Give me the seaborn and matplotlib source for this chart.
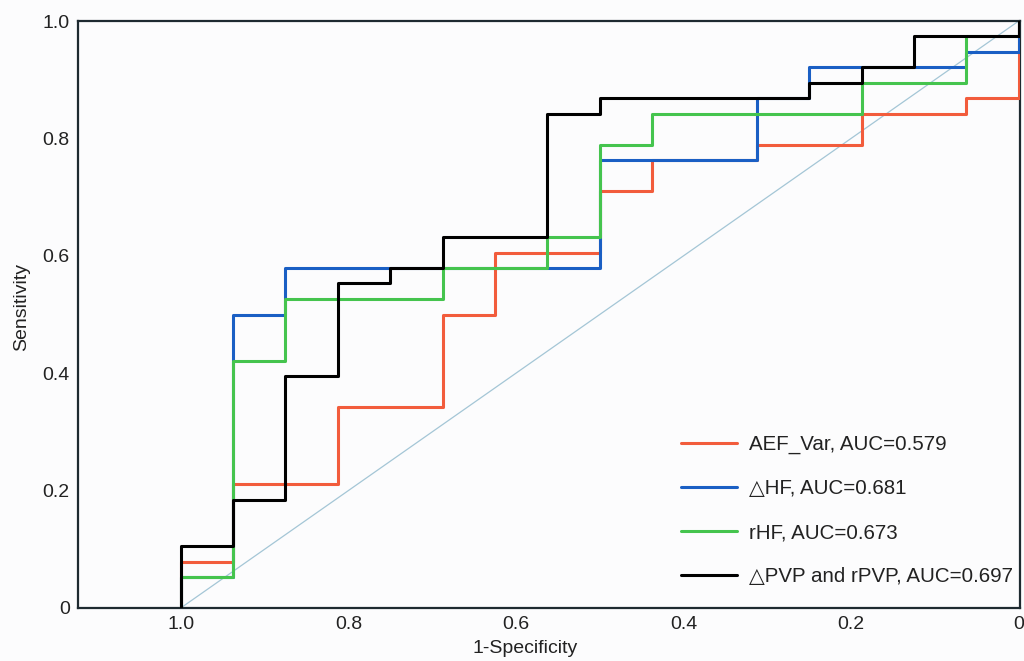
import matplotlib
matplotlib.use("Agg")
import matplotlib.pyplot as plt
import seaborn as sns
import pandas as pd
from matplotlib.lines import Line2D

# ---- data (ROC step vertices: specificity axis value, sensitivity) ----
labels = ["AEF_Var, AUC=0.579", "\u25b3HF, AUC=0.681", "rHF, AUC=0.673",
          "\u25b3PVP and rPVP, AUC=0.697"]
colors = ["#f25c3c", "#1a5fc4", "#45c44e", "#000000"]

aef_x = [1.0, 1.0, 0.9375, 0.8125, 0.6875, 0.625, 0.5, 0.4375, 0.3125, 0.1875, 0.0625, 0.0]
aef_y = [0.0, 0.079, 0.211, 0.342, 0.500, 0.605, 0.711, 0.763, 0.789, 0.842, 0.868, 1.0]

dhf_x = [1.0, 1.0, 0.9375, 0.875, 0.5, 0.3125, 0.25, 0.0625, 0.0]
dhf_y = [0.0, 0.053, 0.500, 0.579, 0.763, 0.868, 0.921, 0.947, 1.0]

rhf_x = [1.0, 1.0, 0.9375, 0.875, 0.6875, 0.5625, 0.5, 0.4375, 0.1875, 0.0625, 0.0]
rhf_y = [0.0, 0.053, 0.421, 0.526, 0.579, 0.632, 0.789, 0.842, 0.895, 0.974, 1.0]

pvp_x = [1.0, 1.0, 0.9375, 0.875, 0.8125, 0.75, 0.6875, 0.5625, 0.5, 0.25, 0.1875, 0.125, 0.0]
pvp_y = [0.0, 0.105, 0.184, 0.395, 0.553, 0.579, 0.632, 0.842, 0.868, 0.895, 0.921, 0.974, 1.0]

xticks = [1.0, 0.8, 0.6, 0.4, 0.2, 0.0]
xticklabels = ["1.0", "0.8", "0.6", "0.4", "0.2", "0"]
yticks = [0.0, 0.2, 0.4, 0.6, 0.8, 1.0]
yticklabels = ["0", "0.2", "0.4", "0.6", "0.8", "1.0"]

frames = []
for lab, xs, ys in zip(labels, [aef_x, dhf_x, rhf_x, pvp_x], [aef_y, dhf_y, rhf_y, pvp_y]):
    frames.append(pd.DataFrame({"spec": xs, "sens": ys, "curve": lab}))
df = pd.concat(frames, ignore_index=True)

sns.set_style("white")
plt.rcParams["font.family"] = ["Liberation Sans", "DejaVu Sans"]

bg = "#fcfcfd"
fig = plt.figure(figsize=(10.24, 6.61), dpi=100, facecolor=bg)
ax = fig.add_axes([78 / 1024, 1 - 608 / 661, (1020 - 78) / 1024, (608 - 21) / 661])
ax.set_facecolor(bg)

# chance line
ax.axline((1.0, 0.0), (0.0, 1.0), color="#a4c6d6", lw=0.9, zorder=1)

sns.lineplot(data=df, x="spec", y="sens", hue="curve", hue_order=labels,
             palette=colors, units="curve", estimator=None, sort=False,
             drawstyle="steps-post", linewidth=2.2, legend=False, ax=ax, zorder=3)

ax.set_xlim(1.1226, -0.0015)
ax.set_ylim(0.0, 1.0)
ax.set_xticks(xticks)
ax.set_xticklabels(xticklabels)
ax.set_yticks(yticks)
ax.set_yticklabels(yticklabels)
ax.tick_params(axis="both", direction="in", length=9, width=1.2, color="#333333",
               labelsize=14, labelcolor="#222222", pad=6)

for s in ax.spines.values():
    s.set_visible(True)
    s.set_color("#1e2a30")
    s.set_linewidth(1.6)

ax.set_xlabel("1-Specificity", fontsize=14, color="#222222")
ax.set_ylabel("Sensitivity", fontsize=14, color="#222222")
ax.xaxis.set_label_coords((525 - 78) / 942, (608 - 640) / 587)
ax.yaxis.set_label_coords((30 - 78) / 942, (608 - 307) / 587)

handles = [Line2D([], [], color=c, lw=2.2) for c in colors]
ax.legend(handles, labels, loc="lower right", bbox_to_anchor=(0.9926, 0.037),
          frameon=False, fontsize=14.8, handlelength=2.7, handletextpad=0.6,
          labelspacing=1.22, borderpad=0, borderaxespad=0, labelcolor="#222222")

fig.savefig("out.png", dpi=100, facecolor=bg)
